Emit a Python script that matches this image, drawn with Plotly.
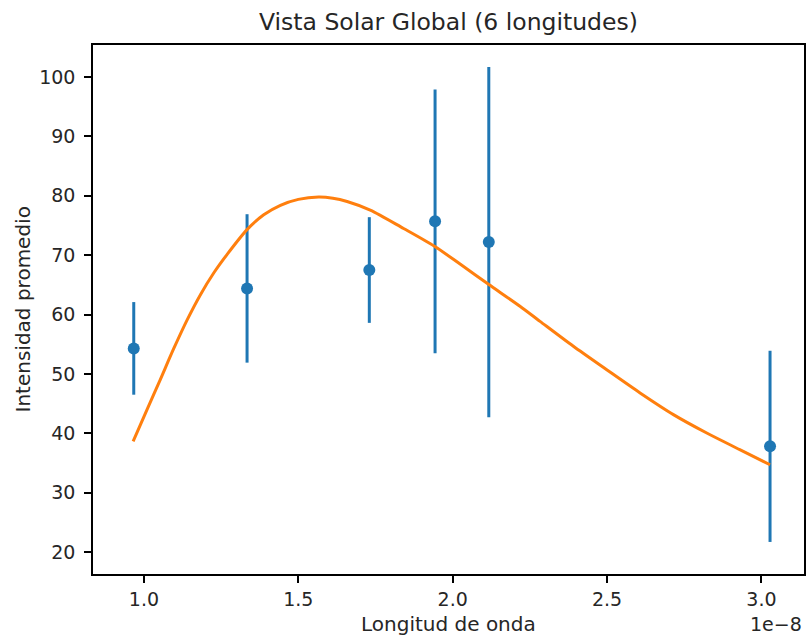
import plotly.graph_objects as go

# puntos medidos (longitud de onda en m, intensidad promedio y su error)
longitudes = [0.967e-8, 1.334e-8, 1.730e-8, 1.943e-8, 2.117e-8, 3.028e-8]
intensidad = [54.3, 64.4, 67.5, 75.7, 72.2, 37.8]
error_int = [7.8, 12.5, 8.9, 22.2, 29.5, 16.1]

# curva de ajuste
curva_x = [0.965e-8, 1.010e-8, 1.053e-8, 1.096e-8, 1.140e-8, 1.183e-8, 1.226e-8,
           1.269e-8, 1.334e-8, 1.388e-8, 1.442e-8, 1.500e-8, 1.566e-8, 1.612e-8,
           1.658e-8, 1.733e-8, 1.841e-8, 1.941e-8, 2.024e-8, 2.116e-8, 2.218e-8,
           2.283e-8, 2.391e-8, 2.499e-8, 2.607e-8, 2.715e-8, 2.823e-8, 2.930e-8,
           3.028e-8]
curva_y = [38.65, 44.0, 49.05, 54.2, 59.1, 63.35, 67.0,
           70.1, 74.3, 76.8, 78.4, 79.4, 79.8, 79.6,
           79.05, 77.6, 74.5, 71.5, 68.5, 65.1, 61.4,
           58.85, 54.65, 50.7, 46.8, 43.15, 40.05, 37.25,
           34.7]

tick_vals = [1.0e-8, 1.5e-8, 2.0e-8, 2.5e-8, 3.0e-8]
tick_text = ["1.0", "1.5", "2.0", "2.5", "3.0"]
y_ticks = [20, 30, 40, 50, 60, 70, 80, 90, 100]

fig = go.Figure()
fig.add_trace(go.Scatter(x=longitudes, y=intensidad, mode="markers",
                         marker=dict(color="#1f77b4", size=12),
                         error_y=dict(type="data", array=error_int, visible=True,
                                      color="#1f77b4", thickness=3, width=0),
                         showlegend=False))
fig.add_trace(go.Scatter(x=curva_x, y=curva_y, mode="lines", line_shape="spline",
                         line=dict(color="#ff7f0e", width=3, smoothing=0.8),
                         showlegend=False))

fig.update_layout(
    width=807, height=635,
    margin=dict(l=93, r=3, t=45, b=61, autoexpand=False),
    plot_bgcolor="white", paper_bgcolor="white",
    font=dict(family="DejaVu Sans", size=19, color="#262626"),
    title=dict(text="Vista Solar Global (6 longitudes)", x=0.5557, xanchor="center",
               y=0.965, yanchor="middle", font=dict(size=23.5, color="#262626")),
)
fig.update_xaxes(range=[0.835e-8, 3.138e-8], tickvals=tick_vals, ticktext=tick_text,
                 showgrid=False, zeroline=False, showline=True, mirror=True,
                 linecolor="black", linewidth=1.6, ticks="outside", ticklen=7,
                 tickwidth=1.6, tickcolor="black", automargin=False)
fig.update_yaxes(range=[16.3, 105.4], tickvals=y_ticks,
                 showgrid=False, zeroline=False, showline=True, mirror=True,
                 linecolor="black", linewidth=1.6, ticks="outside", ticklen=7,
                 tickwidth=1.6, tickcolor="black", automargin=False,
                 ticklabelstandoff=5)

# titulos de ejes y multiplicador como anotaciones
fig.add_annotation(text="Longitud de onda", xref="paper", yref="paper", x=0.5, y=-0.0945,
                   xanchor="center", yanchor="middle", showarrow=False,
                   font=dict(size=20, color="#262626"))
fig.add_annotation(text="Intensidad promedio", xref="paper", yref="paper", x=-0.0985, y=0.5,
                   xanchor="center", yanchor="middle", textangle=-90, showarrow=False,
                   font=dict(size=20, color="#262626"))
fig.add_annotation(text="1e\u22128", xref="paper", yref="paper", x=1.0, y=-0.0945,
                   xanchor="right", yanchor="middle", showarrow=False,
                   font=dict(size=19, color="#262626"))

# quitar el margen del body para que la figura empiece en (0, 0)
fig.write_html("out.html", config={"displayModeBar": False},
               post_script="document.body.style.margin='0';")
